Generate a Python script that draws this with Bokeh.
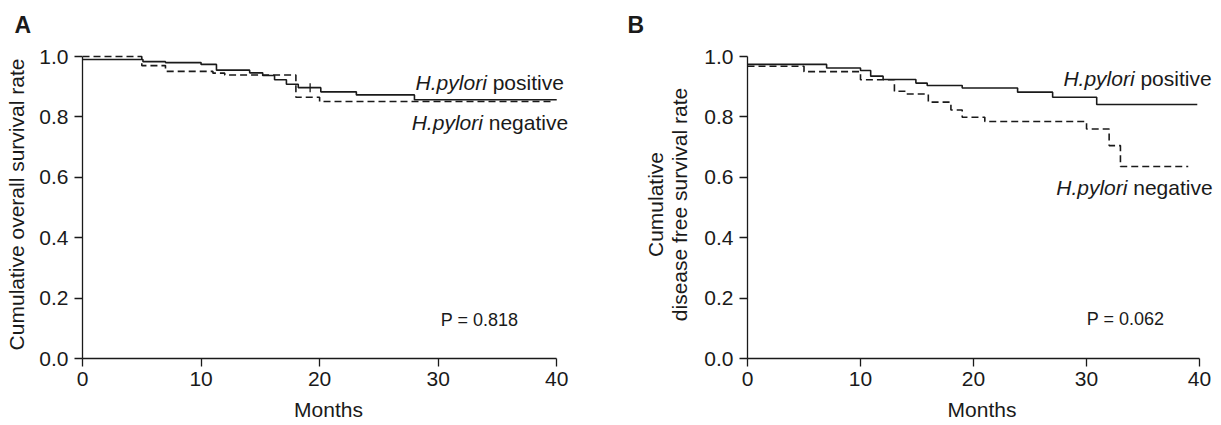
import math
from bokeh.plotting import figure
from bokeh.layouts import row
from bokeh.models import Range1d, FixedTicker, PrintfTickFormatter, Label
from bokeh.embed import file_html
from bokeh.resources import INLINE

FONT = "Liberation Sans"
INK = "#1a1a1a"

# ---- data ----
x_ticks = [0, 10, 20, 30, 40]
y_ticks = [0.0, 0.2, 0.4, 0.6, 0.8, 1.0]

a_pos_t = [0, 5.1, 7, 10, 11.3, 14.1, 15.2, 16.2, 17.2, 18.2, 20.1, 23.1, 28, 40]
a_pos_s = [0.990, 0.983, 0.980, 0.974, 0.955, 0.946, 0.937, 0.923, 0.908, 0.897, 0.883, 0.873, 0.857, 0.857]
a_neg_t = [0, 5, 7, 11, 12, 18, 20, 39.5]
a_neg_s = [1.000, 0.970, 0.951, 0.945, 0.939, 0.865, 0.851, 0.851]
a_cens_t = [19.2]
a_cens_s = [0.897]

b_pos_t = [0, 7, 10, 10.9, 12, 14.9, 15.9, 19, 23.9, 27, 30.9, 39.8]
b_pos_s = [0.974, 0.962, 0.954, 0.935, 0.924, 0.912, 0.904, 0.896, 0.882, 0.865, 0.841, 0.841]
b_neg_t = [0, 5, 10, 13, 14, 16, 18, 19, 21, 30, 32, 33, 39]
b_neg_s = [0.968, 0.950, 0.923, 0.885, 0.876, 0.849, 0.823, 0.799, 0.785, 0.760, 0.705, 0.636, 0.636]

p_text_a = "P = 0.818"
p_text_b = "P = 0.062"
ylab_a = "Cumulative overall survival rate"
ylab_b = "Cumulative\ndisease free survival rate"
xlab = "Months"


def make_panel(frame_w, left, right, xmax, letter, letter_off, ylabel, ylab_standoff,
               pos_t, pos_s, neg_t, neg_s, ptext, ppos, pos_lab, neg_lab):
    p = figure(frame_width=frame_w, frame_height=308, output_backend="svg", toolbar_location=None,
               x_range=Range1d(0, xmax), y_range=Range1d(0, 1.02),
               min_border_left=left, min_border_right=right,
               min_border_top=50, min_border_bottom=66,
               title=letter)
    p.title.text_font = FONT
    p.title.text_font_size = "23px"
    p.title.text_font_style = "bold"
    p.title.text_color = INK
    p.title.align = "left"
    p.title.vertical_align = "top"
    p.title.offset = letter_off
    p.title.standoff = 21
    p.outline_line_color = None
    p.xgrid.visible = False
    p.ygrid.visible = False
    for ax, tk in ((p.xaxis[0], x_ticks), (p.yaxis[0], y_ticks)):
        ax.ticker = FixedTicker(ticks=tk)
        ax.minor_tick_line_color = None
        ax.major_tick_in = 0
        ax.major_tick_out = 8
        ax.axis_line_color = INK
        ax.axis_line_width = 1.3
        ax.major_tick_line_color = INK
        ax.major_tick_line_width = 1.3
        ax.major_label_text_font = FONT
        ax.major_label_text_font_size = "21px"
        ax.major_label_text_color = INK
        ax.axis_label_text_font = FONT
        ax.axis_label_text_font_size = "21px"
        ax.axis_label_text_font_style = "normal"
        ax.axis_label_text_color = INK
    p.yaxis[0].axis_label_text_line_height = 1.05
    p.xaxis[0].bounds = (0, 40)
    p.yaxis[0].bounds = (0, 1)
    p.xaxis[0].major_label_standoff = 5
    p.yaxis[0].major_label_standoff = 6
    p.xaxis[0].axis_label = xlab
    p.xaxis[0].axis_label_standoff = 9
    p.yaxis[0].axis_label = ylabel
    p.yaxis[0].axis_label_standoff = ylab_standoff
    p.yaxis[0].formatter = PrintfTickFormatter(format="%.1f")

    p.step(pos_t, pos_s, mode="after", line_color=INK, line_width=1.6)
    p.step(neg_t, neg_s, mode="after", line_color=INK, line_width=1.6, line_dash="7 4")

    def lab(text, x, y, align="center", style="normal", size="21px", xoff=0):
        p.add_layout(Label(text=text, x=x, y=y, text_align=align, text_baseline="middle",
                           text_font=FONT, text_font_size=size, text_font_style=style,
                           text_color=INK, x_offset=xoff))

    lab(ptext, ppos[0], ppos[1], size="18px")
    w_pos = (3.39 + 0.278) * 21
    w_neg = (3.78 + 0.278) * 21
    lab("positive", pos_lab[0], pos_lab[1], align="right")
    lab("H.pylori", pos_lab[0], pos_lab[1], align="right", style="italic", xoff=-w_pos)
    lab("negative", neg_lab[0], neg_lab[1], align="right")
    lab("H.pylori", neg_lab[0], neg_lab[1], align="right", style="italic", xoff=-w_neg)
    return p


pA = make_panel(492, 82, 42, 41.5, "A", -68, ylab_a, 8,
                a_pos_t, a_pos_s, a_neg_t, a_neg_s,
                p_text_a, (33.5, 0.126), (40.6, 0.914), (40.96, 0.781))
pA.scatter(a_cens_t, a_cens_s, marker="dash", angle=math.pi / 2, size=9, line_color=INK, line_width=1.3)

pB = make_panel(469, 131, 3, 41.5, "B", -120, ylab_b, 10,
                b_pos_t, b_pos_s, b_neg_t, b_neg_s,
                p_text_b, (33.45, 0.132), (41.07, 0.927), (41.16, 0.566))

layout = row(pA, pB)
open("out.html", "w").write(file_html(layout, INLINE))
